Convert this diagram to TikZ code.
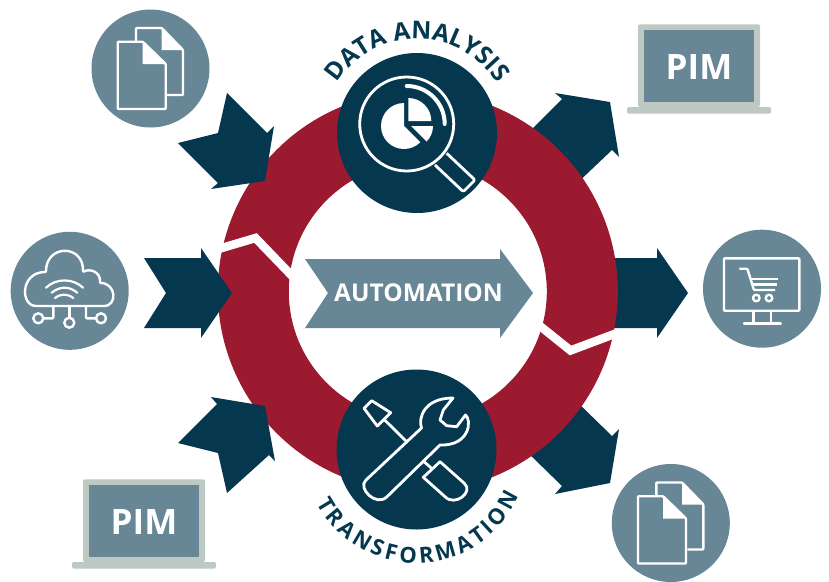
\documentclass[tikz,border=0pt]{standalone}
\usepackage{fontspec}
\setmainfont{Open Sans}
\usepackage{xcolor}
\usetikzlibrary{decorations.text}
\definecolor{navyblue}{HTML}{05384F}
\definecolor{ringred}{HTML}{9B1A30}
\definecolor{slateblue}{HTML}{678696}
\definecolor{lapgrey}{HTML}{BFC9C3}
\tikzset{
	pics/docsicon/.style={code={
		% back page, then front page
		\draw[iconline] (-14.5,-26.8) -- (-14.5,-40.5) -- (11.2,-40.5) -- (32.5,-18.5) -- (32.5,26.5) -- (16.5,26.5);
		\fill[white] (11.2,-40.5) -- (32.5,-18.5) -- (11.2,-18.5) -- cycle;
		\draw[iconline] (-32.8,-26.8) -- (-7.8,-26.8) -- (15.2,-4.5) -- (15.2,40.5) -- (-32.8,40.5) -- cycle;
		\fill[white] (-7.8,-26.8) -- (15.2,-4.5) -- (-7.8,-4.5) -- cycle;
	}},
	pics/laptopicon/.style={code={
		\fill[lapgrey, rounded corners=2pt] (-61,0) rectangle (61,-82.7);
		\fill[slateblue] (-55,-5) rectangle (55,-77.5);
		\fill[lapgrey, rounded corners=2pt] (-72,0) rectangle (72,6.7);
		\node[pimlabel] (label) at (0,-40) {PIM};
	}}
}
\begin{document}
\begin{tikzpicture}[
		x=1pt, y=-1pt,
		arrowfill/.style={fill=navyblue},
		bigdisc/.style={circle, fill=navyblue, minimum size=160pt, inner sep=0pt, outer sep=0pt},
		smalldisc/.style={circle, fill=slateblue, minimum size=118pt, inner sep=0pt, outer sep=0pt},
		iconline/.style={draw=white, line width=2.4pt, line join=round, rounded corners=0.8pt},
		thickline/.style={draw=white, line width=2.8pt, line join=round},
		pimlabel/.style={text=white, font=\bfseries\fontsize{35}{35}\selectfont, inner sep=0pt},
		curvelabel/.style n args={3}{decorate, decoration={text along path, text align={#2},
				text={|\bfseries\fontsize{#1}{#1}\selectfont\color{navyblue}|#3}}},
	]
	\useasboundingbox (0,0) rectangle (829,581);

	% arrows leaving the ring, they go under it
	\fill[arrowfill] (523,138) -- (562,99) -- (555,93) -- (610,102) -- (619,157) -- (612,150) -- (572,188) -- cycle;
	\fill[arrowfill] (600,258) -- (657,258) -- (657,248) -- (688,293) -- (657,338) -- (657,328) -- (600,328) -- cycle;
	\fill[arrowfill] (573,398) -- (612,436) -- (619,429) -- (610,483) -- (555,494) -- (562,486) -- (523,448) -- cycle;

	% the ring
	\node[circle, draw=ringred, line width=71pt, minimum size=329pt, inner sep=0pt, outer sep=0pt] (ring) at (417.8,291.5) {};
	\draw[white, line width=8.5pt, line join=miter] (215,250) -- (255.5,238) -- (295,279);
	\draw[white, line width=8.5pt, line join=miter] (535,322) -- (570.5,350.5) -- (617,333);

	% arrows going into the ring
	\fill[arrowfill] (144,258) -- (201,258) -- (201,248) -- (232,293) -- (201,338) -- (201,328) -- (144,328) -- (166,293) -- cycle;
	\fill[arrowfill] (178,143) -- (218,133) -- (227,93) -- (267,133) -- (274,126) -- (265,181) -- (211,189) -- (218,183) -- cycle;
	\fill[arrowfill] (178,443) -- (218,453) -- (227,493) -- (269,455) -- (275,461) -- (265,406) -- (211,397) -- (217,404) -- cycle;

	% centre arrow
	\fill[slateblue] (305,259) -- (500,259) -- (500,249) -- (533,293) -- (500,338) -- (500,328) -- (305,328) -- (328,293) -- cycle;
	\node[text=white, font=\bfseries\fontsize{24.5}{25}\selectfont, inner sep=0pt] (autolabel) at (418.5,292.5) {AUTOMATION};

	\node[bigdisc] (datadisc) at (417,133) {};
	\node[bigdisc] (transdisc) at (416.5,449.5) {};
	\node[smalldisc] (docsin) at (150.5,68.5) {};
	\node[smalldisc] (cloud) at (69.7,290.8) {};
	\node[smalldisc] (shop) at (762,288.7) {};
	\node[smalldisc] (docsout) at (670.8,523) {};

	\path[curvelabel={24.5}{center}{DATA ANALYSIS}] (335.6,86) arc[start angle=150, end angle=30, radius=94pt];
	\path[curvelabel={22}{fit to path}{TRANSFORMATION}] (316.2,503) arc[start angle=208, end angle=336, radius=113pt];

	\pic at (150.5,68.5) {docsicon};
	\pic at (670.8,523) {docsicon};
	\pic (lapout) at (699,107) {laptopicon};
	\pic (lapin) at (144,562) {laptopicon};

	% magnifier
	\draw[thickline] (406.7,124) circle[radius=47pt];
	\draw[white, line width=4pt, line cap=round] (406.7,86) arc[start angle=90, end angle=0, radius=38pt];
	\draw[thickline, rounded corners=1.5pt] (435,165) -- (463.3,191.7) -- (475,180) -- (446.7,153.3);
	\fill[white] (404,126) -- (404,103) arc[start angle=90, end angle=315, radius=23pt] -- cycle;
	\fill[white] (408.3,121) -- (408.3,98) arc[start angle=90, end angle=0, radius=23pt] -- cycle;
	\fill[white] (411,126) -- (433,126) arc[start angle=0, end angle=-45, radius=22pt] -- cycle;

	% tools
	\draw[thickline] (364,408.3) -- (371.7,400.7) -- (390.7,412.7) -- (377.3,426) -- cycle;
	\draw[thickline] (384,419.3) -- (406,441);
	\draw[thickline] (424,461.7) -- (431.7,468.3);
	\draw[thickline] (440,461.7) -- (423.3,477.3) -- (445,496.7) .. controls (455,507) and (474,492) .. (464.3,483.3) -- cycle;
	\draw[thickline] (366,480) -- (421.5,428) .. controls (418,418) and (424,398) .. (453,398) -- (443.3,410) -- (440,420) -- (446.7,425.7) -- (456.7,426.7) -- (465.5,415) .. controls (472,420) and (470,446) .. (440,445) -- (386.7,497) .. controls (376,507) and (357,488) .. (366,480) -- cycle;

	% cloud
	\draw[iconline] (37,306) .. controls (20,306) and (20,272) .. (46,272) .. controls (46,244) and (84,244) .. (83,272) .. controls (90,268) and (101,272) .. (100,283) .. controls (116,283) and (118,306) .. (103,306) -- cycle;
	\draw[white, line width=2.2pt, line cap=round] (46,287.7) .. controls (56,278) and (73,278) .. (83,287.7);
	\draw[white, line width=2.2pt, line cap=round] (51.7,292.7) .. controls (60,286) and (69,286) .. (77.3,292.7);
	\draw[white, line width=2.2pt, line cap=round] (55,298) .. controls (61,293.5) and (67,293.5) .. (73.3,298);
	\draw[iconline] (53.3,306) -- (53.3,318.3) -- (43.3,318.3);
	\draw[iconline] (69.3,306) -- (69.3,317.7);
	\draw[iconline] (86,306) -- (86,318.3) -- (96,318.3);
	\foreach \cx/\cy in {38.3/318.3, 69.3/322.7, 101/318.3}
		\draw[iconline] (\cx,\cy) circle[radius=5pt];

	% monitor with cart
	\draw[iconline] (724,258.3) rectangle (799.3,310.7);
	\draw[iconline] (753.3,310.7) -- (753.3,323.5);
	\draw[iconline] (770.7,310.7) -- (770.7,323.5);
	\draw[white, line width=2.5pt, line cap=round] (744,323.7) -- (780.7,323.7);
	\draw[iconline] (739.3,268.7) -- (747.3,268.7) -- (754,290) -- (775,290);
	\draw[iconline] (750,278.7) -- (778.3,278.7);
	\draw[iconline] (751.7,284.3) -- (776.7,284.3);
	\draw[iconline] (756.3,298) circle[radius=3.3pt];
	\draw[iconline] (769,298) circle[radius=3.3pt];
\end{tikzpicture}
\end{document}
